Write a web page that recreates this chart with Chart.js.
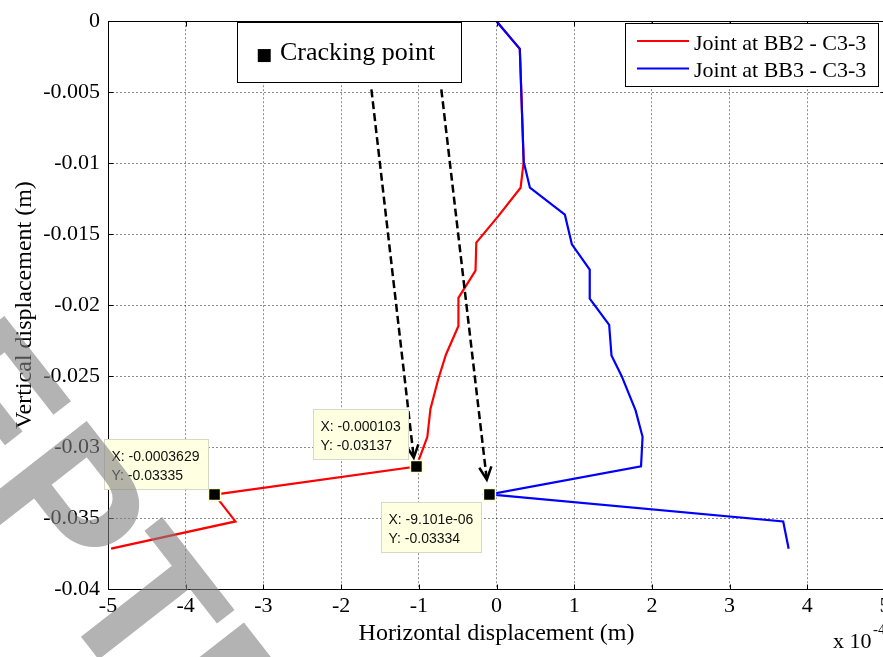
<!DOCTYPE html>
<html>
<head>
<meta charset="utf-8">
<script src="https://cdn.jsdelivr.net/npm/chart.js@4"></script>
<style>
  html, body { margin: 0; padding: 0; background: #fff; overflow: hidden; }
  canvas { display: block; }
</style>
</head>
<body>
<canvas id="myChart" width="900" height="657"></canvas>
<script>
// horizontal displacement in units of 1e-4 m (axis shows "x 10^-4"), vertical in m
const bb2X = [0, 0.30, 0.35, 0.31, 0.02, -0.26, -0.27, -0.49, -0.49, -0.65, -0.75, -0.85, -0.89, -1.03, -3.629, -3.36, -4.96];
const bb2Y = [0, -0.00195, -0.0099, -0.01173, -0.01375, -0.0156, -0.01757, -0.01949, -0.02147, -0.02348, -0.02522, -0.02731, -0.02928, -0.03137, -0.03335, -0.03524, -0.03716];
const bb3X = [0, 0.30, 0.35, 0.43, 0.88, 0.97, 1.20, 1.20, 1.45, 1.48, 1.61, 1.79, 1.88, 1.86, -0.091, 3.69, 3.76];
const bb3Y = [0, -0.00195, -0.0099, -0.01173, -0.01363, -0.01572, -0.0175, -0.01954, -0.0214, -0.02355, -0.02499, -0.02742, -0.02928, -0.03136, -0.03334, -0.03524, -0.03716];

// cracking points (metres, as in the data tips)
const crackX = [-0.0003629, -0.000103, -9.101e-06];
const crackY = [-0.03335, -0.03137, -0.03334];
const crackXText = ['X: -0.0003629', 'X: -0.000103', 'X: -9.101e-06'];
const crackYText = ['Y: -0.03335', 'Y: -0.03137', 'Y: -0.03334'];

const xTicks = [-5, -4, -3, -2, -1, 0, 1, 2, 3, 4, 5];
const xTickLabels = ['-5', '-4', '-3', '-2', '-1', '0', '1', '2', '3', '4', '5'];
const yTicks = [-0.04, -0.035, -0.03, -0.025, -0.02, -0.015, -0.01, -0.005, 0];
const yTickLabels = ['-0.04', '-0.035', '-0.03', '-0.025', '-0.02', '-0.015', '-0.01', '-0.005', '0'];

const legendLabels = ['Joint at BB2 - C3-3', 'Joint at BB3 - C3-3'];
const legendColors = ['#ff0000', '#0000ff'];

// arrows from the "Cracking point" note, in axis units
const arrowFromX = [-1.61, -0.71];
const arrowFromY = [-0.0048, -0.0048];
const arrowToX = [-1.065, -0.125];
const arrowToY = [-0.03074, -0.03229];

Chart.defaults.font.family = '"Liberation Serif", "Times New Roman", serif';
Chart.defaults.color = '#000';

function line(ctx, x1, y1, x2, y2) {
  ctx.beginPath();
  ctx.moveTo(x1, y1);
  ctx.lineTo(x2, y2);
  ctx.stroke();
}

const extras = {
  id: 'extras',
  afterDraw(chart) {
    const ctx = chart.ctx;
    const xs = chart.scales.x, ys = chart.scales.y;
    const a = chart.chartArea;
    ctx.save();

    // axes box + inside ticks
    ctx.strokeStyle = '#000';
    ctx.lineWidth = 1;
    ctx.setLineDash([]);
    const L = Math.round(a.left) + 0.5, R = Math.round(a.right) + 0.5;
    const T = Math.round(a.top) + 0.5, B = Math.round(a.bottom) + 0.5;
    ctx.strokeRect(L, T, R - L, B - T);
    xTicks.forEach(v => {
      const px = Math.round(xs.getPixelForValue(v)) + 0.5;
      line(ctx, px, B, px, B - 5);
      line(ctx, px, T, px, T + 5);
    });
    yTicks.forEach(v => {
      const py = Math.round(ys.getPixelForValue(v)) + 0.5;
      line(ctx, L, py, L + 5, py);
      line(ctx, R, py, R - 5, py);
    });

    // dashed arrows
    ctx.strokeStyle = '#000';
    ctx.lineWidth = 2.5;
    for (let i = 0; i < arrowFromX.length; i++) {
      const x1 = xs.getPixelForValue(arrowFromX[i]), y1 = ys.getPixelForValue(arrowFromY[i]);
      const x2 = xs.getPixelForValue(arrowToX[i]), y2 = ys.getPixelForValue(arrowToY[i]);
      ctx.setLineDash([8, 4]);
      line(ctx, x1, y1, x2, y2);
      ctx.setLineDash([]);
      const ang = Math.atan2(y2 - y1, x2 - x1), hl = 14, w = 0.45;
      ctx.beginPath();
      ctx.moveTo(x2 - hl * Math.cos(ang - w), y2 - hl * Math.sin(ang - w));
      ctx.lineTo(x2, y2);
      ctx.lineTo(x2 - hl * Math.cos(ang + w), y2 - hl * Math.sin(ang + w));
      ctx.stroke();
    }

    // data tips
    const tipOff = [[-111, -56], [-103, -57], [-108, 8]];
    const tipW = [104, 95, 100];
    ctx.font = '14px "Liberation Sans", Arial, sans-serif';
    ctx.textBaseline = 'alphabetic';
    ctx.textAlign = 'left';
    for (let i = 0; i < crackX.length; i++) {
      const px = xs.getPixelForValue(crackX[i] * 1e4), py = ys.getPixelForValue(crackY[i]);
      const bx = Math.round(px + tipOff[i][0]) + 0.5, by = Math.round(py + tipOff[i][1]) + 0.5;
      ctx.fillStyle = '#ffffe1';
      ctx.fillRect(bx, by, tipW[i], 50);
      ctx.strokeStyle = '#d8d8c8';
      ctx.lineWidth = 1;
      ctx.strokeRect(bx, by, tipW[i], 50);
      ctx.fillStyle = '#111';
      ctx.fillText(crackXText[i], bx + 7, by + 21);
      ctx.fillText(crackYText[i], bx + 7, by + 40);
    }

    // "Cracking point" note
    ctx.fillStyle = '#fff';
    ctx.fillRect(237.5, 22.5, 224, 60);
    ctx.strokeStyle = '#000';
    ctx.lineWidth = 1;
    ctx.strokeRect(237.5, 22.5, 224, 60);
    ctx.fillStyle = '#000';
    ctx.font = '17px "DejaVu Sans", sans-serif';
    ctx.fillText('■', 256, 60);
    ctx.font = '26px "Liberation Serif", serif';
    ctx.fillText('Cracking point', 280, 59.5);

    // legend
    ctx.fillStyle = '#fff';
    ctx.fillRect(625.5, 23.5, 253, 63);
    ctx.strokeStyle = '#000';
    ctx.strokeRect(625.5, 23.5, 253, 63);
    ctx.font = '22px "Liberation Serif", serif';
    legendLabels.forEach((lab, i) => {
      const ly = 41 + i * 27.5;
      ctx.strokeStyle = legendColors[i];
      ctx.lineWidth = 2;
      line(ctx, 637, ly, 689, ly);
      ctx.fillStyle = '#000';
      ctx.fillText(lab, 694, ly + 8.5);
    });

    // axis titles
    ctx.fillStyle = '#000';
    ctx.font = '24px "Liberation Serif", serif';
    ctx.textAlign = 'center';
    ctx.fillText('Horizontal displacement (m)', (a.left + a.right) / 2, 640);
    ctx.save();
    ctx.translate(31, (a.top + a.bottom) / 2);
    ctx.rotate(-Math.PI / 2);
    ctx.fillText('Vertical displacement (m)', 0, 0);
    ctx.restore();
    ctx.textAlign = 'left';
    ctx.font = '22px "Liberation Serif", serif';
    ctx.fillText('x 10', 833, 648);
    ctx.font = '15px "Liberation Serif", serif';
    ctx.fillText('-4', 873, 634);

    // watermark
    ctx.save();
    ctx.translate(-30, 495);
    ctx.rotate(52 * Math.PI / 180);
    ctx.font = 'bold 200px "Liberation Sans", Arial, sans-serif';
    ctx.fillStyle = 'rgba(128,128,128,0.6)';
    const pre = ctx.measureText('ACCE').width;
    ctx.fillText('ACCEPTED MANUSCRIPT', -pre, 0);
    ctx.restore();

    ctx.restore();
  }
};

new Chart(document.getElementById('myChart'), {
  type: 'scatter',
  data: {
    datasets: [
      {
        label: 'Cracking point',
        data: crackX.map((v, i) => ({ x: v * 1e4, y: crackY[i] })),
        showLine: false,
        pointStyle: 'rect',
        pointRadius: 8.5,
        backgroundColor: '#000',
        borderColor: '#ffffcc',
        borderWidth: 1.5,
        order: 0
      },
      {
        label: legendLabels[1],
        data: bb3X.map((v, i) => ({ x: v, y: bb3Y[i] })),
        showLine: true,
        borderColor: legendColors[1],
        borderWidth: 2.2,
        pointRadius: 0,
        order: 1
      },
      {
        label: legendLabels[0],
        data: bb2X.map((v, i) => ({ x: v, y: bb2Y[i] })),
        showLine: true,
        borderColor: legendColors[0],
        borderWidth: 2.2,
        pointRadius: 0,
        order: 2
      }
    ]
  },
  options: {
    responsive: false,
    animation: false,
    events: [],
    layout: { padding: { top: 14, right: 15, left: 0, bottom: 0 } },
    plugins: { legend: { display: false }, tooltip: { enabled: false } },
    scales: {
      x: {
        type: 'linear',
        min: -5,
        max: 5,
        afterBuildTicks: s => { s.ticks = xTicks.map(v => ({ value: v })); },
        afterFit: s => { s.height = 68; },
        ticks: {
          callback: (v, i) => xTickLabels[i],
          font: { size: 22 },
          color: '#000',
          padding: 4,
          maxRotation: 0,
          autoSkip: false
        },
        grid: { color: 'rgba(0,0,0,0.45)', lineWidth: 1, drawTicks: false },
        border: { display: false, dash: [2, 2] }
      },
      y: {
        type: 'linear',
        min: -0.04,
        max: 0,
        afterBuildTicks: s => { s.ticks = yTicks.map(v => ({ value: v })); },
        afterFit: s => { s.width = 108; },
        ticks: {
          callback: (v, i) => yTickLabels[i],
          font: { size: 22 },
          color: '#000',
          padding: 8,
          autoSkip: false
        },
        grid: { color: 'rgba(0,0,0,0.45)', lineWidth: 1, drawTicks: false },
        border: { display: false, dash: [2, 2] }
      }
    }
  },
  plugins: [extras]
});
</script>
</body>
</html>
